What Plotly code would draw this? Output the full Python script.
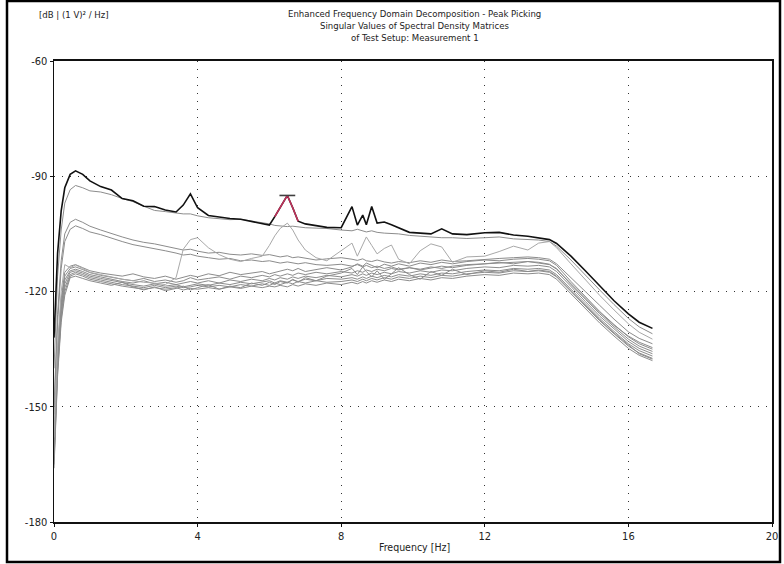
import plotly.graph_objects as go

# ---------------- data ----------------
FREQ = [0, 0.05, 0.1, 0.2, 0.3,
        0.45, 0.6, 0.8, 1.0, 1.3,
        1.6, 1.9, 2.2, 2.5, 2.8,
        3.1, 3.4, 3.6, 3.8, 4.0,
        4.3, 4.6, 4.9, 5.2, 5.5,
        5.8, 6.0, 6.15, 6.3, 6.5,
        6.65, 6.8, 7.0, 7.3, 7.6,
        8.0, 8.3, 8.45, 8.6, 8.7,
        8.85, 9.0, 9.2, 9.4, 9.6,
        9.9, 10.2, 10.5, 10.8, 11.1,
        11.5, 12.0, 12.4, 12.8, 13.2,
        13.5, 13.8, 14.0, 14.4, 14.8,
        15.2, 15.6, 16.0, 16.3, 16.67]

SV1 = [-132, -120, -110, -99, -93,
       -89.5, -88.6, -89.5, -91.2, -92.7,
       -93.6, -95.8, -96.4, -97.8, -97.9,
       -98.8, -99.3, -97.5, -94.6, -98.2,
       -100.2, -100.6, -101.0, -101.2, -101.7,
       -102.2, -102.7, -100.5, -98.0, -95.0,
       -98.2, -101.7, -102.4, -102.8, -103.3,
       -103.4, -97.9, -102.7, -100.1, -102.6,
       -97.9, -102.2, -101.9, -102.6, -103.4,
       -104.6, -104.8, -105.0, -103.7, -105.0,
       -105.2, -104.7, -104.6, -105.3, -105.6,
       -106.0, -106.5, -107.5, -110.8, -114.6,
       -118.6, -122.4, -125.8, -128.0, -129.6]

SV2 = [-140, -128, -116, -104, -97,
       -93.5, -92.4, -93.0, -93.8, -94.1,
       -94.8, -95.8, -96.6, -97.8, -98.9,
       -99.2, -99.5, -99.8, -99.8, -100.3,
       -100.8, -101.0, -101.3, -101.2, -101.6,
       -102.0, -102.4, -102.8, -103.0, -103.1,
       -103.0, -103.2, -103.4, -103.5, -103.6,
       -104.0, -104.2, -103.8, -104.3, -104.5,
       -104.2, -104.6, -104.8, -104.9, -105.0,
       -105.4, -105.6, -105.8, -106.0, -106.0,
       -106.2, -106.0, -105.8, -106.3, -106.4,
       -106.6, -107.0, -108.2, -111.8, -115.8,
       -119.6, -123.4, -127.0, -129.2, -131.0]

SV3 = [-150, -138, -126, -112, -105,
       -102.0, -101.2, -102.0, -103.0, -104.0,
       -105.0, -105.8, -106.6, -107.2, -107.6,
       -108.2, -108.8, -109.2, -109.0, -109.5,
       -110.0, -109.8, -110.3, -110.5, -110.2,
       -110.6, -110.4, -110.8, -111.0, -110.7,
       -111.2, -111.0, -111.4, -111.8, -111.5,
       -111.2, -111.6, -111.9, -111.5, -112.0,
       -112.2, -111.8, -112.3, -112.6, -112.2,
       -112.5, -112.0, -112.4, -111.8, -112.2,
       -112.0, -111.6, -111.4, -111.2, -111.0,
       -111.2, -111.6, -112.8, -116.5, -120.0,
       -123.6, -127.2, -130.5, -132.2, -133.6]

SV4 = [-152, -140, -128, -114, -107,
       -103.8, -102.9, -103.6, -104.5, -105.2,
       -106.2, -107.0, -107.8, -108.3, -108.8,
       -109.4, -110.0, -110.5, -110.3, -110.8,
       -111.2, -111.6, -111.4, -112.0, -111.8,
       -112.2, -112.0, -112.4, -112.6, -112.3,
       -112.6, -112.8, -112.5, -113.0, -113.2,
       -112.9, -113.4, -113.0, -113.6, -113.2,
       -113.8, -113.4, -114.0, -113.6, -114.2,
       -113.8, -114.4, -113.9, -113.4, -113.8,
       -113.2, -112.8, -112.6, -112.4, -112.2,
       -112.4, -112.9, -114.2, -118.0, -121.8,
       -125.4, -128.8, -131.6, -133.2, -134.6]

SV5 = [-158, -146, -134, -120, -113,
       -113.8, -113.1, -114.0, -115.0, -115.6,
       -116.2, -116.8, -117.2, -117.6, -117.8,
       -118.2, -116.4, -109.0, -106.5, -106.0,
       -108.6, -110.4, -111.6, -112.2, -111.4,
       -110.8, -108.0, -105.5, -103.6, -102.2,
       -104.0, -106.6, -109.2, -111.2, -112.0,
       -109.4, -107.4, -110.8, -107.6, -105.8,
       -108.0, -110.2, -108.8, -107.9, -111.6,
       -112.8, -109.4, -107.6, -108.4, -112.4,
       -111.0, -110.8, -109.6, -108.2, -109.2,
       -107.4, -107.0, -108.6, -112.8, -117.0,
       -121.0, -124.8, -128.4, -130.6, -132.4]

SV6 = [-160, -148, -136, -122, -115,
       -113.4, -113.0, -113.8, -114.6, -115.2,
       -115.6, -116.0, -115.4, -116.2, -116.6,
       -116.0, -116.8, -116.4, -115.8, -116.2,
       -115.4, -115.9, -115.0, -115.6, -115.2,
       -114.8, -115.4, -115.0, -114.6, -114.2,
       -114.6, -114.0, -114.8, -114.2, -113.8,
       -114.4, -113.6, -112.8, -113.4, -112.6,
       -113.2, -113.8, -112.9, -113.4, -112.8,
       -113.4, -112.6, -113.0, -112.4, -112.8,
       -112.2, -111.8, -112.0, -111.6, -111.4,
       -111.6, -112.0, -113.2, -117.4, -121.4,
       -125.2, -128.6, -131.8, -133.6, -135.0]

SV7 = [-161, -149, -137, -123, -116,
       -114.0, -113.6, -114.3, -115.1, -115.8,
       -116.4, -116.8, -117.2, -116.6, -117.4,
       -117.0, -117.6, -117.2, -116.4, -117.0,
       -116.6, -116.2, -116.8, -116.0, -116.4,
       -115.8, -116.2, -115.6, -116.0, -115.4,
       -115.8, -115.2, -115.6, -115.0, -115.4,
       -114.8, -115.2, -114.6, -115.0, -114.4,
       -114.8, -114.2, -114.6, -114.0, -114.4,
       -113.8, -114.2, -113.6, -114.0, -113.4,
       -113.0, -112.8, -112.4, -112.8, -112.2,
       -112.6, -113.0, -114.0, -118.2, -122.0,
       -125.8, -129.2, -132.4, -134.2, -135.6]

SV8 = [-162, -150, -138, -124, -117,
       -114.6, -114.2, -114.8, -115.6, -116.2,
       -116.8, -117.4, -117.8, -117.2, -118.0,
       -117.6, -118.2, -117.8, -117.4, -117.8,
       -117.2, -117.8, -117.0, -117.4, -116.8,
       -117.2, -116.6, -117.0, -116.4, -116.8,
       -116.2, -116.6, -116.0, -116.4, -115.8,
       -116.2, -115.6, -116.0, -115.4, -115.8,
       -115.2, -115.6, -115.0, -115.4, -114.8,
       -115.2, -114.6, -115.0, -114.4, -114.6,
       -114.0, -113.6, -113.8, -113.2, -113.4,
       -113.2, -113.6, -114.8, -118.8, -122.6,
       -126.4, -129.8, -133.0, -134.8, -136.2]

SV9 = [-163, -151, -139, -125, -118,
       -115.0, -114.6, -115.2, -116.0, -116.6,
       -117.2, -117.8, -118.2, -118.6, -118.0,
       -118.6, -118.2, -118.8, -118.4, -118.0,
       -118.4, -117.8, -118.2, -117.6, -118.0,
       -117.6, -117.2, -117.8, -117.2, -117.6,
       -117.0, -117.4, -116.8, -117.2, -116.6,
       -116.8, -116.4, -116.8, -116.2, -116.6,
       -116.0, -116.4, -115.8, -116.2, -115.6,
       -116.0, -115.4, -115.8, -115.2, -115.4,
       -114.8, -114.4, -114.6, -114.0, -114.2,
       -114.0, -114.4, -115.6, -119.4, -123.2,
       -127.0, -130.4, -133.6, -135.4, -136.8]

SV10 = [-164, -152, -140, -126, -119,
        -115.6, -115.0, -115.6, -116.4, -117.0,
        -117.6, -118.2, -118.6, -119.0, -118.4,
        -119.0, -118.6, -119.0, -118.8, -118.4,
        -118.8, -118.4, -118.8, -118.2, -118.6,
        -118.0, -118.4, -117.8, -118.2, -117.6,
        -118.0, -117.4, -117.8, -117.2, -117.6,
        -117.4, -117.0, -117.4, -116.8, -117.2,
        -116.6, -117.0, -116.4, -116.8, -116.2,
        -116.6, -116.0, -116.4, -115.8, -116.0,
        -115.4, -115.0, -115.2, -114.6, -114.8,
        -114.6, -115.0, -116.2, -120.0, -123.8,
        -127.6, -131.0, -134.2, -136.0, -137.4]

SV11 = [-165, -153, -141, -127, -120,
        -116.0, -115.4, -116.0, -116.8, -117.4,
        -118.0, -118.6, -119.0, -119.4, -119.0,
        -119.4, -119.0, -119.6, -119.2, -119.4,
        -119.0, -119.4, -118.8, -119.2, -118.6,
        -119.0, -118.6, -118.8, -118.4, -118.8,
        -118.2, -118.6, -118.0, -118.4, -117.8,
        -118.2, -117.6, -118.0, -117.4, -117.8,
        -117.2, -117.6, -117.0, -117.4, -116.8,
        -117.2, -116.6, -117.0, -116.4, -116.6,
        -116.0, -115.6, -115.8, -115.2, -115.4,
        -115.2, -115.6, -116.8, -120.6, -124.4,
        -128.2, -131.6, -134.8, -136.6, -138.0]

SV12 = [-166, -154, -142, -128, -121,
        -116.4, -116.0, -116.6, -117.2, -117.8,
        -118.4, -117.6, -118.8, -119.6, -118.8,
        -119.8, -119.2, -118.6, -119.6, -119.0,
        -118.2, -119.4, -118.6, -119.0, -117.8,
        -118.4, -117.6, -118.2, -117.4, -117.8,
        -116.8, -117.6, -116.4, -117.2, -116.0,
        -115.2, -114.0, -115.6, -113.6, -114.8,
        -116.2, -114.6, -116.8, -115.4, -113.8,
        -115.6, -116.8, -114.8, -115.8, -114.2,
        -115.6, -114.6, -115.0, -114.2, -114.8,
        -114.4, -114.8, -116.0, -119.8, -123.6,
        -127.4, -130.8, -134.0, -136.2, -137.6]

PEAK_FREQ = 6.5
PEAK_DB = -95.0
PEAK_BAND = (6.15, 6.8)

X_TICKS = [0, 4, 8, 12, 16, 20]
Y_TICKS = [-180, -150, -120, -90, -60]

TITLE_LINES = ["Enhanced Frequency Domain Decomposition - Peak Picking",
               "Singular Values of Spectral Density Matrices",
               "of Test Setup: Measurement 1"]
Y_UNIT = "[dB | (1 V)² / Hz]"
X_TITLE = "Frequency [Hz]"

# ---------------- layout helpers ----------------
W, H = 784, 564
L, R, T, B = 54, 12, 61, 42
PW, PH = W - L - R, H - T - B


def px(x):
    return (x - L) / PW


def py(y):
    return (H - B - y) / PH


FONT = "Liberation Sans Narrow, Arial Narrow, DejaVu Sans Condensed, Liberation Sans, Arial, sans-serif"

fig = go.Figure()

gray_curves = [SV12, SV11, SV10, SV9, SV8, SV7, SV6, SV4, SV3, SV2]
for c in gray_curves:
    fig.add_trace(go.Scatter(x=FREQ, y=c, mode="lines",
                             line=dict(color="#8c8c8c", width=1),
                             hoverinfo="skip", showlegend=False))
fig.add_trace(go.Scatter(x=FREQ, y=SV5, mode="lines",
                         line=dict(color="#a8a8a8", width=1),
                         hoverinfo="skip", showlegend=False))
fig.add_trace(go.Scatter(x=FREQ, y=SV1, mode="lines",
                         line=dict(color="#111111", width=1.6),
                         hoverinfo="skip", showlegend=False))

# peak band highlighted in magenta
band_x = [f for f in FREQ if PEAK_BAND[0] <= f <= PEAK_BAND[1]]
band_y = [v for f, v in zip(FREQ, SV1) if PEAK_BAND[0] <= f <= PEAK_BAND[1]]
fig.add_trace(go.Scatter(x=band_x, y=band_y, mode="lines",
                         line=dict(color="#c0305a", width=1.6),
                         hoverinfo="skip", showlegend=False))

# cursor at picked peak
fig.add_vline(x=PEAK_FREQ, line=dict(color="#3aa89a", width=1.2))
# peak marker bar
fig.add_trace(go.Scatter(x=[PEAK_FREQ - 0.22, PEAK_FREQ + 0.22], y=[PEAK_DB, PEAK_DB],
                         mode="lines", line=dict(color="#404040", width=1.6),
                         hoverinfo="skip", showlegend=False))

grid_dash = "1px,7px"
fig.update_xaxes(range=[0, 20], tickvals=X_TICKS, ticktext=[str(v) for v in X_TICKS],
                 showgrid=True, gridcolor="#333333", gridwidth=1, griddash=grid_dash,
                 showline=True, linecolor="#111111", linewidth=2, mirror=True,
                 ticks="outside", ticklen=3, tickcolor="#111111", automargin=False,
                 zeroline=False, tickfont=dict(family=FONT, size=11, color="#222222"))
fig.update_yaxes(range=[-180, -60], tickvals=Y_TICKS, ticktext=[str(v) for v in Y_TICKS],
                 showgrid=True, gridcolor="#333333", gridwidth=1, griddash=grid_dash,
                 showline=True, linecolor="#111111", linewidth=1.5, mirror=True,
                 ticks="outside", ticklen=3, tickcolor="#111111", automargin=False,
                 zeroline=False, tickfont=dict(family=FONT, size=11, color="#222222"))

annotations = []
for i, line in enumerate(TITLE_LINES):
    annotations.append(dict(text=line, x=px(415), y=py(13 + 12 * i), xref="paper", yref="paper",
                            xanchor="center", yanchor="middle", showarrow=False,
                            font=dict(family=FONT, size=9.5, color="#222222")))
annotations.append(dict(text=Y_UNIT, x=px(37), y=py(14), xref="paper", yref="paper",
                        xanchor="left", yanchor="middle", showarrow=False,
                        font=dict(family=FONT, size=9.5, color="#222222")))
annotations.append(dict(text=X_TITLE, x=px(415), y=py(547), xref="paper", yref="paper",
                        xanchor="center", yanchor="middle", showarrow=False,
                        font=dict(family=FONT, size=10.5, color="#222222")))

shapes = [dict(type="rect", xref="paper", yref="paper",
               x0=px(7), x1=px(780), y0=py(562), y1=py(1),
               line=dict(color="#000000", width=2.5))]

fig.update_layout(width=W, height=H, margin=dict(l=L, r=R, t=T, b=B),
                  paper_bgcolor="white", plot_bgcolor="white",
                  annotations=annotations, shapes=shapes, showlegend=False)

fig.write_html("out.html", config={"displayModeBar": False, "staticPlot": True},
               post_script="document.body.style.margin='0px';document.body.style.overflow='hidden';")
